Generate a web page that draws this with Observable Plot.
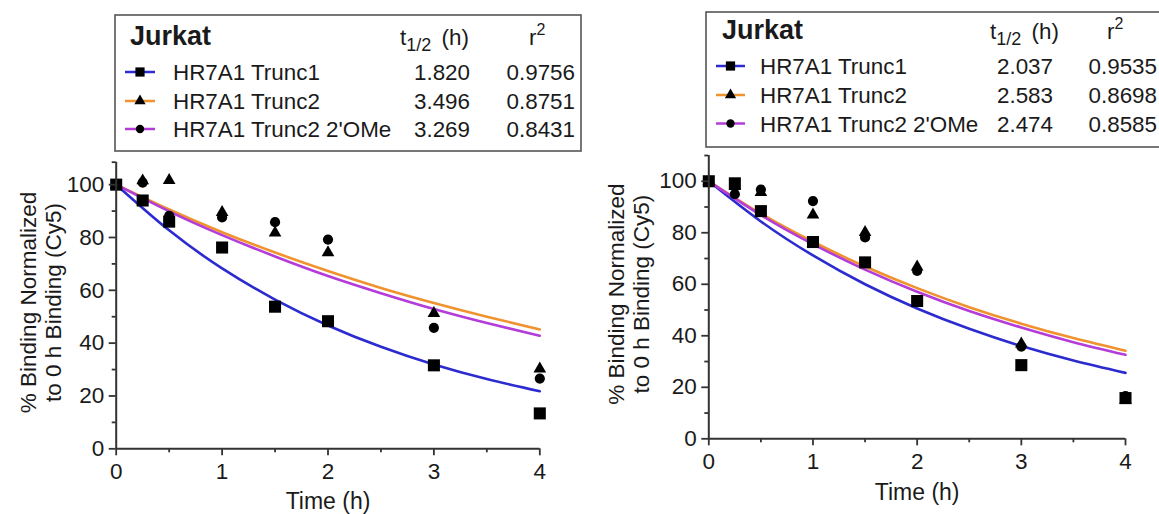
<!DOCTYPE html>
<html><head><meta charset="utf-8">
<script src="https://cdn.jsdelivr.net/npm/d3@7"></script>
<script src="https://cdn.jsdelivr.net/npm/@observablehq/plot@0.6"></script>
<style>
html,body{margin:0;padding:0;background:#fff;}
#root{position:relative;width:1159px;height:514px;overflow:hidden;}
#root > *{position:absolute;}
</style></head><body><div id="root"></div>
<script>
// ---------- data ----------
const times = [0, 0.25, 0.5, 1, 1.5, 2, 3, 4];
const seriesNames = ["HR7A1 Trunc1", "HR7A1 Trunc2", "HR7A1 Trunc2 2'OMe"];
const cellLine = "Jurkat";

// left panel measured points (% binding)
const leftTrunc1 = [100, 94.0, 86.0, 76.2, 53.8, 48.3, 31.6, 13.4];
const leftTrunc2 = [100, 101.5, 101.6, 89.5, 81.8, 74.3, 51.3, 30.3];
const leftOMe    = [100, 100.8, 88.2, 87.6, 85.8, 79.2, 45.8, 26.6];
// right panel measured points
const rightTrunc1 = [100, 99.2, 88.4, 76.4, 68.5, 53.5, 28.6, 15.8];
const rightTrunc2 = [100, 98.0, 95.7, 87.0, 80.2, 66.8, 36.9, 15.0];
const rightOMe    = [100, 95.0, 96.8, 92.3, 78.2, 65.2, 35.8, 16.6];

// fitted one-phase decay curves read at 0.5 h steps
const fitTimes = [0, 0.5, 1, 1.5, 2, 2.5, 3, 3.5, 4];
const leftFit1 = [100, 82.7, 68.3, 56.5, 46.7, 38.6, 31.9, 26.4, 21.8];
const leftFit2 = [100, 90.6, 82.0, 74.3, 67.3, 60.9, 55.2, 50.0, 45.2];
const leftFit3 = [100, 89.9, 80.9, 72.8, 65.4, 58.9, 52.9, 47.6, 42.8];
const rightFit1 = [100, 84.4, 71.2, 60.0, 50.6, 42.7, 36.0, 30.4, 25.6];
const rightFit2 = [100, 87.4, 76.5, 66.9, 58.5, 51.1, 44.7, 39.1, 34.2];
const rightFit3 = [100, 86.9, 75.6, 65.7, 57.1, 49.6, 43.2, 37.5, 32.6];

// legend table values
const leftHalfLife = ["1.820", "3.496", "3.269"];
const leftR2 = ["0.9756", "0.8751", "0.8431"];
const rightHalfLife = ["2.037", "2.583", "2.474"];
const rightR2 = ["0.9535", "0.8698", "0.8585"];

// ticks
const xMajorTicks = [0, 1, 2, 3, 4];
const xMinorTicks = [0.5, 1.5, 2.5, 3.5];
const yMajorTicks = [0, 20, 40, 60, 80, 100];
const yMinorTicks = [10, 30, 50, 70, 90];
const yLabel = "% Binding Normalized\nto 0 h Binding (Cy5)";
const xLabel = "Time (h)";

// ---------- styling ----------
const FONT = '"Liberation Sans", Arial, Helvetica, sans-serif';
const colors = ["#2b2bd0", "#f0922e", "#b43cd8"];
const symbols = ["square", "triangle", "circle"];
const symbolR = [6.8, 4.7, 5.1];
const axisColor = "#333";

const root = document.getElementById("root");

function panel(p) {
  const pts = [];
  p.series.forEach((vals, i) => vals.forEach((v, j) => pts.push({t: times[j], v, s: i})));
  const fits = p.fits.map(vals => vals.map((v, j) => ({t: fitTimes[j], v})));
  const drawOrder = [1, 2, 0];
  const svg = Plot.plot({
    width: p.w, height: p.h,
    marginLeft: p.ml, marginRight: p.mr, marginTop: p.mt, marginBottom: p.mb,
    x: {domain: [0, 4]},
    y: {domain: [0, p.ymax]},
    style: {fontFamily: FONT, fontSize: "22px", color: "#1a1a1a", background: "transparent", overflow: "visible"},
    marks: [
      ...fits.map((f, i) => Plot.line(f, {x: "t", y: "v", stroke: colors[i], strokeWidth: 2.6, curve: "natural"})),
      ...drawOrder.map(i => Plot.dot(pts.filter(d => d.s === i), {x: "t", y: "v", symbol: symbols[i], r: symbolR[i], fill: "#000", stroke: "none"})),
      Plot.ruleX([0], {y1: 0, y2: p.ymax, stroke: axisColor, strokeWidth: 2}),
      Plot.ruleY([0], {x1: 0, x2: 4, stroke: axisColor, strokeWidth: 2}),
      Plot.axisX({ticks: xMajorTicks, tickSize: 7, tickPadding: 7, tickFormat: d => String(d), label: null, stroke: axisColor, strokeWidth: 1.8, fontSize: 22.5}),
      Plot.axisX({ticks: xMinorTicks, tickSize: 4, tickFormat: () => "", label: null, stroke: axisColor, strokeWidth: 1.8}),
      Plot.axisY({ticks: yMajorTicks, tickSize: 7, tickPadding: 5, tickFormat: d => String(d), label: null, stroke: axisColor, strokeWidth: 1.8, fontSize: 22.5}),
      Plot.axisY({ticks: p.minorY, tickSize: 4, tickFormat: () => "", label: null, stroke: axisColor, strokeWidth: 1.8}),
      Plot.text([xLabel], {text: d => d, frameAnchor: "bottom", lineAnchor: "bottom", dy: p.xlabDy, fontSize: 23, fill: "#1a1a1a"}),
      Plot.text([yLabel], {text: d => d, frameAnchor: "left", rotate: -90, lineAnchor: "middle", lineHeight: 1.12, textAnchor: "middle", dx: p.ylabDx, dy: -3, fontSize: 22.5, fill: "#1a1a1a"})
    ]
  });
  svg.style.left = p.left + "px";
  svg.style.top = p.top + "px";
  root.appendChild(svg);
}

panel({left: 0, top: 150, w: 580, h: 364, ml: 115.7, mr: 40.7, mt: 11.7, mb: 65.7, ymax: 108.5,
  minorY: [...yMinorTicks, 108.5], series: [leftTrunc1, leftTrunc2, leftOMe], fits: [leftFit1, leftFit2, leftFit3],
  xlabDy: 60, ylabDx: -76});
panel({left: 580, top: 140, w: 579, h: 374, ml: 128.3, mr: 34, mt: 15, mb: 75.7, ymax: 110,
  minorY: [...yMinorTicks, 110], series: [rightTrunc1, rightTrunc2, rightOMe], fits: [rightFit1, rightFit2, rightFit3],
  xlabDy: 61, ylabDx: -80});

// ---------- legends ----------
const leg = d3.create("svg").attr("width", 1159).attr("height", 514)
  .style("left", "0px").style("top", "0px").style("pointer-events", "none")
  .attr("font-family", FONT).attr("fill", "#1a1a1a");

function legend(L) {
  const g = leg.append("g");
  g.append("rect").attr("x", L.x).attr("y", L.y).attr("width", L.w).attr("height", L.h)
    .attr("fill", "none").attr("stroke", "#555").attr("stroke-width", 1.6);
  g.append("text").attr("x", L.titleX).attr("y", L.titleY).attr("font-size", 27).attr("font-weight", "bold").text(cellLine);
  const th = g.append("text").attr("x", L.tX).attr("y", L.hY).attr("font-size", 22.4);
  th.append("tspan").text("t");
  th.append("tspan").attr("font-size", 18).attr("dy", 6).text("1/2");
  th.append("tspan").attr("dy", -6).attr("dx", 4).text(" (h)");
  const rh = g.append("text").attr("x", L.rX).attr("y", L.hY).attr("font-size", 22.4);
  rh.append("tspan").text("r");
  rh.append("tspan").attr("font-size", 16).attr("dy", -10).text("2");
  seriesNames.forEach((name, i) => {
    const y = L.rowY[i];
    g.append("line").attr("x1", L.swX1).attr("x2", L.swX2).attr("y1", y - 8).attr("y2", y - 8)
      .attr("stroke", colors[i]).attr("stroke-width", 2.5);
    const sym = [d3.symbolSquare, d3.symbolTriangle, d3.symbolCircle][i];
    const size = [85, 55, 55][i];
    g.append("path").attr("d", d3.symbol(sym, size)()).attr("transform", `translate(${(L.swX1 + L.swX2) / 2},${y - 8})`).attr("fill", "#000");
    g.append("text").attr("x", L.nameX).attr("y", y).attr("font-size", 22.4).text(name);
    g.append("text").attr("x", L.tEnd).attr("y", y).attr("font-size", 22.4).attr("text-anchor", "end").text(L.half[i]);
    g.append("text").attr("x", L.rEnd).attr("y", y).attr("font-size", 22.4).attr("text-anchor", "end").text(L.r2[i]);
  });
}

legend({x: 115, y: 15, w: 466, h: 136, titleX: 130, titleY: 45, tX: 400, rX: 529, hY: 45,
  rowY: [80, 109, 137], swX1: 125, swX2: 155, nameX: 173, tEnd: 470, rEnd: 575,
  half: leftHalfLife, r2: leftR2});
legend({x: 706, y: 12, w: 500, h: 135, titleX: 722, titleY: 38.5, tX: 990, rX: 1107, hY: 39,
  rowY: [74, 103, 131.5], swX1: 716, swX2: 745, nameX: 760, tEnd: 1053, rEnd: 1157,
  half: rightHalfLife, r2: rightR2});

root.appendChild(leg.node());
</script></body></html>
